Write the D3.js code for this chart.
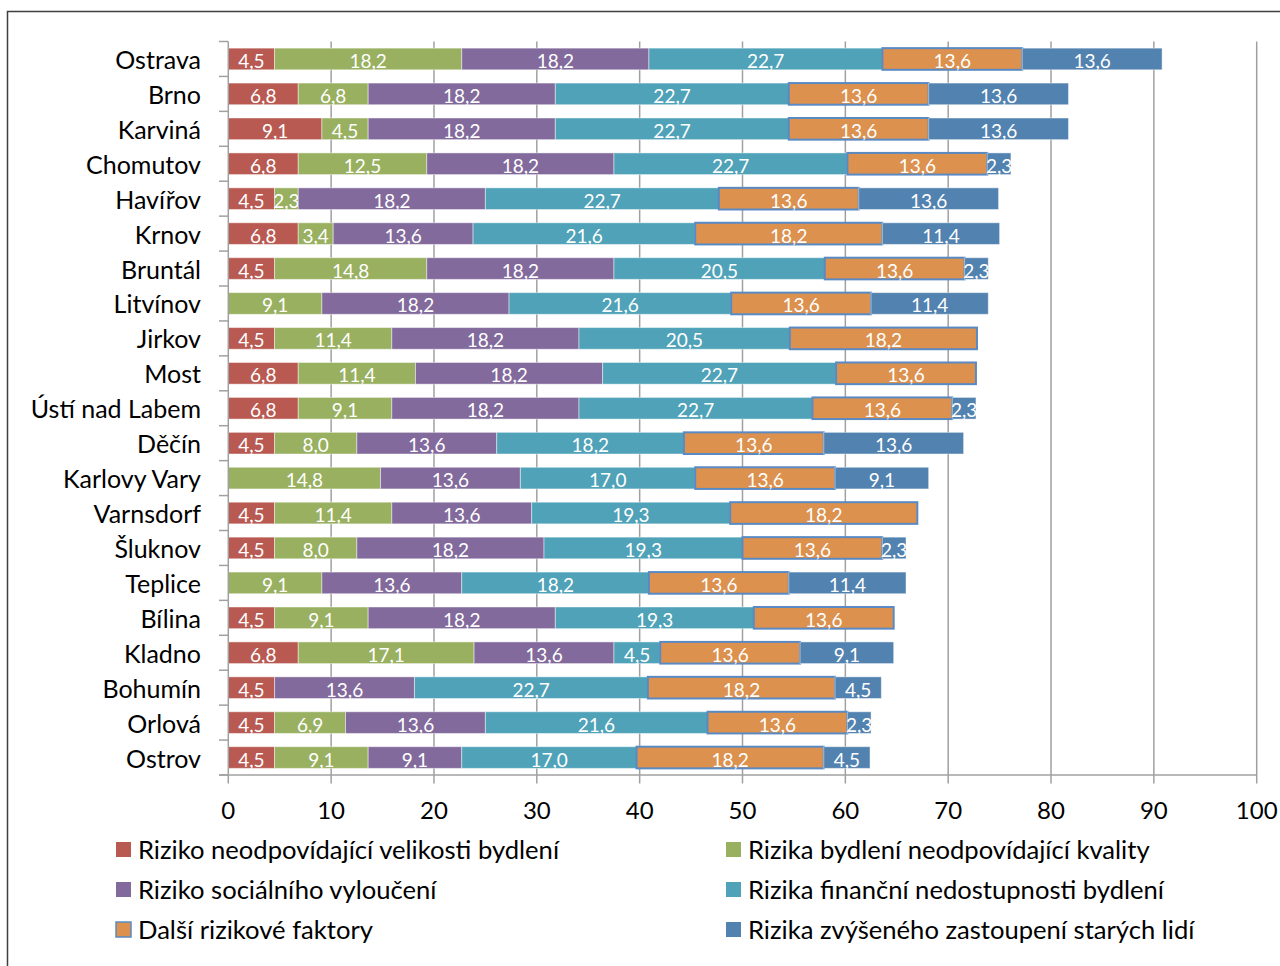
<!DOCTYPE html>
<html>
<head>
<meta charset="utf-8">
<script src="https://cdn.jsdelivr.net/npm/d3@7"></script>
<style>
  html, body { margin: 0; padding: 0; background: #fff; }
  svg { display: block; font-family: Lato, "Open Sans", sans-serif; }
</style>
</head>
<body>
<svg id="chart" width="1280" height="966"></svg>
<script>
// Cities, top to bottom
const cities = ["Ostrava", "Brno", "Karviná", "Chomutov", "Havířov", "Krnov", "Bruntál",
  "Litvínov", "Jirkov", "Most", "Ústí nad Labem", "Děčín", "Karlovy Vary", "Varnsdorf",
  "Šluknov", "Teplice", "Bílina", "Kladno", "Bohumín", "Orlová", "Ostrov"];

// Risk components per city (same order as cities)
const velikost   = [4.5, 6.8, 9.1, 6.8, 4.5, 6.8, 4.5, 0, 4.5, 6.8, 6.8, 4.5, 0, 4.5, 4.5, 0, 4.5, 6.8, 4.5, 4.5, 4.5];
const kvalita    = [18.2, 6.8, 4.5, 12.5, 2.3, 3.4, 14.8, 9.1, 11.4, 11.4, 9.1, 8.0, 14.8, 11.4, 8.0, 9.1, 9.1, 17.1, 0, 6.9, 9.1];
const vylouceni  = [18.2, 18.2, 18.2, 18.2, 18.2, 13.6, 18.2, 18.2, 18.2, 18.2, 18.2, 13.6, 13.6, 13.6, 18.2, 13.6, 18.2, 13.6, 13.6, 13.6, 9.1];
const financni   = [22.7, 22.7, 22.7, 22.7, 22.7, 21.6, 20.5, 21.6, 20.5, 22.7, 22.7, 18.2, 17.0, 19.3, 19.3, 18.2, 19.3, 4.5, 22.7, 21.6, 17.0];
const dalsi      = [13.6, 13.6, 13.6, 13.6, 13.6, 18.2, 13.6, 13.6, 18.2, 13.6, 13.6, 13.6, 13.6, 18.2, 13.6, 13.6, 13.6, 13.6, 18.2, 13.6, 18.2];
const starci     = [13.6, 13.6, 13.6, 2.3, 13.6, 11.4, 2.3, 11.4, 0, 0, 2.3, 13.6, 9.1, 0, 2.3, 11.4, 0, 9.1, 4.5, 2.3, 4.5];

const seriesNames = [
  "Riziko neodpovídající velikosti bydlení",
  "Rizika bydlení neodpovídající kvality",
  "Riziko sociálního vyloučení",
  "Rizika finanční nedostupnosti bydlení",
  "Další rizikové faktory",
  "Rizika zvýšeného zastoupení starých lidí"
];
const seriesValues = [velikost, kvalita, vylouceni, financni, dalsi, starci];
const seriesColors = ["#b85a52", "#98b060", "#826a9c", "#4fa2b8", "#dc914e", "#5282b0"];

const xTicks = [0, 10, 20, 30, 40, 50, 60, 70, 80, 90, 100];

const svg = d3.select("#chart");

// Outer chart frame
svg.append("rect")
  .attr("x", 7.5).attr("y", 11.5)
  .attr("width", 1290).attr("height", 970)
  .attr("fill", "none").attr("stroke", "#3f3f3f").attr("stroke-width", 1.5);

const plotTop = 41.5, plotBottom = 775;
const x = d3.scaleLinear().domain([0, 100]).range([228.3, 1256.7]);
const y = d3.scaleBand().domain(cities).range([plotTop, plotBottom])
  .paddingInner(0.38).paddingOuter(0.19);

// Vertical gridlines
svg.append("g").selectAll("line")
  .data(xTicks.filter(d => d > 0))
  .join("line")
  .attr("x1", d => x(d)).attr("x2", d => x(d))
  .attr("y1", plotTop).attr("y2", plotBottom)
  .attr("stroke", "#a0a0a0").attr("stroke-width", 1.5);

// Stack the components
const rows = cities.map((c, i) => {
  const r = { city: c };
  seriesValues.forEach((arr, k) => { r["s" + k] = arr[i]; });
  return r;
});
const keys = seriesValues.map((_, k) => "s" + k);
const stacked = d3.stack().keys(keys)(rows);

const layers = svg.append("g").selectAll("g")
  .data(stacked)
  .join("g")
  .attr("fill", (d, k) => seriesColors[k]);

layers.selectAll("rect")
  .data(d => d.filter(p => p[1] - p[0] > 0))
  .join("rect")
  .attr("x", p => x(p[0]))
  .attr("y", p => y(p.data.city))
  .attr("width", p => x(p[1]) - x(p[0]))
  .attr("height", y.bandwidth())
  .attr("stroke", function () {
    return d3.select(this.parentNode).datum().key === "s4" ? "#5a8ac4" : "rgba(255,255,255,0.45)";
  })
  .attr("stroke-width", function () {
    return d3.select(this.parentNode).datum().key === "s4" ? 2 : 1;
  });

// Value labels
const fmt = v => v.toFixed(1).replace(".", ",");
layers.selectAll("text")
  .data(d => d.filter(p => p[1] - p[0] > 0))
  .join("text")
  .attr("x", p => (x(p[0]) + x(p[1])) / 2)
  .attr("y", p => y(p.data.city) + y.bandwidth() / 2 + 9)
  .attr("text-anchor", "middle")
  .attr("fill", "#ffffff")
  .attr("font-size", 19)
  .text(p => fmt(p[1] - p[0]));

// Y axis: line, ticks between categories and city names
const yAxis = svg.append("g");
yAxis.append("line")
  .attr("x1", x(0)).attr("x2", x(0)).attr("y1", plotTop).attr("y2", plotBottom)
  .attr("stroke", "#a0a0a0").attr("stroke-width", 1.5);
const bounds = d3.range(cities.length + 1).map(i => plotTop + i * y.step());
yAxis.selectAll("line.tick")
  .data(bounds)
  .join("line").attr("class", "tick")
  .attr("x1", 219).attr("x2", x(0))
  .attr("y1", d => d).attr("y2", d => d)
  .attr("stroke", "#a0a0a0").attr("stroke-width", 1.5);
yAxis.selectAll("text")
  .data(cities)
  .join("text")
  .attr("x", 201)
  .attr("y", d => y(d) + y.bandwidth() / 2 + 10)
  .attr("text-anchor", "end")
  .attr("fill", "#000")
  .attr("font-size", 25)
  .text(d => d);

// X axis
const xAxis = svg.append("g");
xAxis.append("line")
  .attr("x1", 219).attr("x2", x(100)).attr("y1", plotBottom).attr("y2", plotBottom)
  .attr("stroke", "#a0a0a0").attr("stroke-width", 1.5);
xAxis.selectAll("line.tick")
  .data(xTicks)
  .join("line").attr("class", "tick")
  .attr("x1", d => x(d)).attr("x2", d => x(d))
  .attr("y1", plotBottom).attr("y2", plotBottom + 8.5)
  .attr("stroke", "#a0a0a0").attr("stroke-width", 1.5);
xAxis.selectAll("text")
  .data(xTicks)
  .join("text")
  .attr("x", d => x(d))
  .attr("y", 819)
  .attr("text-anchor", "middle")
  .attr("fill", "#000")
  .attr("font-size", 24)
  .text(d => d);

// Legend: two columns, three rows
const legend = svg.append("g");
const legItems = legend.selectAll("g")
  .data(seriesNames)
  .join("g")
  .attr("transform", (d, i) => `translate(${i % 2 === 0 ? 116 : 726},${850 + Math.floor(i / 2) * 40})`);
legItems.append("rect")
  .attr("x", 0).attr("y", -8).attr("width", 15).attr("height", 15)
  .attr("fill", (d, i) => seriesColors[i])
  .attr("stroke", (d, i) => i === 4 ? "#5a8ac4" : "none")
  .attr("stroke-width", 1.5);
legItems.append("text")
  .attr("x", 22).attr("y", 8.5)
  .attr("fill", "#000")
  .attr("font-size", 25.6)
  .text(d => d);
</script>
</body>
</html>
